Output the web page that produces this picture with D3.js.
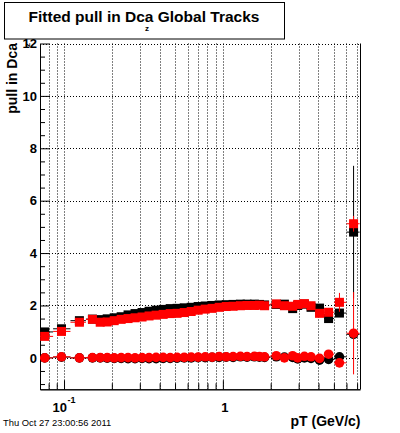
<!DOCTYPE html>
<html>
<head>
<meta charset="utf-8">
<script src="https://cdn.jsdelivr.net/npm/d3@7/dist/d3.min.js"></script>
<style>
  body { margin: 0; background: #fff; }
  text { font-family: "Liberation Sans", Arial, sans-serif; }
</style>
</head>
<body>
<svg id="chart" width="400" height="433"></svg>
<script>
// pT bin centres (GeV/c)
var pt = [0.0756, 0.0964, 0.125, 0.151,
  0.169, 0.187, 0.207, 0.229, 0.253, 0.280, 0.310, 0.343, 0.380, 0.421, 0.466, 0.515,
  0.571, 0.632, 0.699, 0.774, 0.856, 0.948, 1.05, 1.16, 1.29, 1.42, 1.58, 1.70,
  1.83, 2.17, 2.44, 2.75, 2.96, 3.26, 3.59, 4.06, 4.63, 5.42, 6.65];

// fitted width of the pull (squares)
var sigmaBlack = [0.99, 1.11, 1.42, 1.48,
  1.46, 1.49, 1.53, 1.57, 1.64, 1.69, 1.73, 1.78, 1.82, 1.85, 1.88, 1.89,
  1.91, 1.93, 1.96, 1.98, 2.00, 2.02, 2.03, 2.04, 2.05, 2.05, 2.05, 2.04,
  2.02, 2.04, 2.05, 1.88, 2.00, 2.05, 1.93, 1.90, 1.50, 1.71, 4.80];
var sigmaRed = [0.82, 1.01, 1.36, 1.47,
  1.36, 1.37, 1.42, 1.47, 1.50, 1.53, 1.56, 1.60, 1.63, 1.66, 1.69, 1.70,
  1.73, 1.77, 1.82, 1.86, 1.89, 1.93, 1.96, 1.97, 1.99, 2.00, 2.00, 2.01,
  1.99, 2.06, 1.99, 1.97, 2.04, 2.07, 1.99, 1.70, 1.74, 2.12, 5.12];

// fitted mean of the pull (circles)
var meanBlack = [0.00, 0.03, 0.00, 0.00,
  0.00, -0.01, -0.02, -0.02, -0.03, -0.03, -0.02, -0.03, -0.03, -0.02, -0.02, -0.01,
  0.00, 0.00, 0.01, 0.01, 0.02, 0.02, 0.03, 0.02, 0.04, 0.03, 0.04, 0.03,
  0.02, 0.04, 0.03, 0.02, -0.04, 0.00, -0.02, -0.09, -0.06, 0.04, 0.90];
var meanRed = [0.00, 0.04, 0.00, 0.01,
  0.01, 0.01, 0.00, 0.01, 0.01, 0.00, 0.01, 0.01, 0.02, 0.02, 0.01, 0.02,
  0.02, 0.03, 0.03, 0.04, 0.03, 0.05, 0.04, 0.05, 0.06, 0.05, 0.06, 0.05,
  0.04, 0.08, 0.00, 0.08, 0.00, 0.06, 0.04, -0.02, 0.14, -0.19, 0.94];

// vertical errors (only the last bins are visible outside the markers)
var sigmaErrBlack = [0.03, 0.03, 0.03, 0.03,
  0.02, 0.02, 0.02, 0.02, 0.02, 0.02, 0.02, 0.02, 0.02, 0.02, 0.02, 0.02,
  0.02, 0.02, 0.02, 0.02, 0.02, 0.02, 0.02, 0.02, 0.02, 0.02, 0.02, 0.02,
  0.03, 0.03, 0.04, 0.05, 0.05, 0.06, 0.08, 0.12, 0.12, 0.15, 2.53];
var sigmaErrRed = [0.03, 0.03, 0.03, 0.03,
  0.02, 0.02, 0.02, 0.02, 0.02, 0.02, 0.02, 0.02, 0.02, 0.02, 0.02, 0.02,
  0.02, 0.02, 0.02, 0.02, 0.02, 0.02, 0.02, 0.02, 0.02, 0.02, 0.02, 0.02,
  0.03, 0.03, 0.04, 0.05, 0.05, 0.06, 0.08, 0.12, 0.12, 0.36, 0.30];
var meanErrBlack = [0.03, 0.03, 0.03, 0.03,
  0.02, 0.02, 0.02, 0.02, 0.02, 0.02, 0.02, 0.02, 0.02, 0.02, 0.02, 0.02,
  0.02, 0.02, 0.02, 0.02, 0.02, 0.02, 0.02, 0.02, 0.02, 0.02, 0.02, 0.02,
  0.03, 0.03, 0.04, 0.05, 0.05, 0.06, 0.08, 0.10, 0.12, 0.15, 0.20];
var meanErrRed = [0.03, 0.03, 0.03, 0.03,
  0.02, 0.02, 0.02, 0.02, 0.02, 0.02, 0.02, 0.02, 0.02, 0.02, 0.02, 0.02,
  0.02, 0.02, 0.02, 0.02, 0.02, 0.02, 0.02, 0.02, 0.02, 0.02, 0.02, 0.02,
  0.03, 0.03, 0.04, 0.05, 0.05, 0.06, 0.08, 0.10, 0.12, 0.15, 1.57];

var firstBinEdge = 0.065;
var lastBinEdge = 7.26;

var xMajor = [0.1, 1];
var xMinor = [0.08, 0.09, 0.2, 0.3, 0.4, 0.5, 0.6, 0.7, 0.8, 0.9, 2, 3, 4, 5, 6, 7];
var yMajor = [0, 2, 4, 6, 8, 10, 12];
var yMinor = [-1, -0.5, 0.5, 1, 1.5, 2.5, 3, 3.5, 4.5, 5, 5.5, 6.5, 7, 7.5,
  8.5, 9, 9.5, 10.5, 11, 11.5];

// frame edges in px (note: "top" is reserved on window)
var frameL = 40, frameR = 360, frameT = 43.5, frameB = 389.3;

var svg = d3.select('#chart');

svg.append('rect')
  .attr('width', 400).attr('height', 433)
  .attr('fill', '#fff');

var x = d3.scaleLog()
  .domain([0.0706, 7.3])
  .range([frameL, frameR]);

var y = d3.scaleLinear()
  .domain([-1.2, 12])
  .range([frameB, frameT]);

// dotted grid
var grid = svg.append('g')
  .attr('stroke', '#000')
  .attr('stroke-width', 1)
  .attr('stroke-dasharray', '1,2');

grid.selectAll('.vg')
  .data(xMajor.concat(xMinor))
  .enter().append('line')
  .attr('x1', d => Math.round(x(d)) + 0.5)
  .attr('x2', d => Math.round(x(d)) + 0.5)
  .attr('y1', frameT)
  .attr('y2', frameB);

grid.selectAll('.hg')
  .data(yMajor)
  .enter().append('line')
  .attr('x1', frameL)
  .attr('x2', frameR)
  .attr('y1', d => Math.round(y(d)) + 0.5)
  .attr('y2', d => Math.round(y(d)) + 0.5);

// right edge of the frame
svg.append('line')
  .attr('x1', frameR + 0.5).attr('x2', frameR + 0.5)
  .attr('y1', frameT).attr('y2', frameB)
  .attr('stroke', '#000');

// axes: ticks point into the frame
var gx = svg.append('g').attr('transform', 'translate(0,' + frameB + ')');
gx.append('g').call(d3.axisBottom(x).tickValues(xMinor).tickSize(-6).tickSizeOuter(0).tickFormat(''));
gx.append('g').call(d3.axisBottom(x).tickValues(xMajor).tickSize(-9).tickSizeOuter(0).tickFormat(''));

var gy = svg.append('g').attr('transform', 'translate(' + frameL + ',0)');
gy.append('g').call(d3.axisLeft(y).tickValues(yMinor).tickSize(-5).tickSizeOuter(0).tickFormat(''));
gy.append('g').call(d3.axisLeft(y).tickValues(yMajor).tickSize(-9).tickSizeOuter(0).tickPadding(3));

svg.selectAll('.domain').attr('stroke', '#000');
svg.selectAll('.tick line').attr('stroke', '#000');
gy.selectAll('.tick text')
  .attr('font-family', '"Liberation Sans", Arial, sans-serif')
  .attr('font-size', '13px')
  .attr('font-weight', 'bold')
  .attr('fill', '#000');

// x tick labels, ROOT style 10^-1 and 1
var xl = svg.append('g')
  .attr('font-weight', 'bold')
  .attr('fill', '#000');
xl.append('text')
  .attr('x', x(0.1) + 3)
  .attr('y', 411.7)
  .attr('text-anchor', 'end')
  .attr('font-size', '13px')
  .text('10');
xl.append('text')
  .attr('x', x(0.1) + 3.5)
  .attr('y', 402.5)
  .attr('font-size', '9px')
  .text('-1');
xl.append('text')
  .attr('x', x(1) + 2)
  .attr('y', 411.7)
  .attr('text-anchor', 'middle')
  .attr('font-size', '13px')
  .text('1');

// markers, black graph first then red on top
svg.append('clipPath').attr('id', 'frame')
  .append('rect')
  .attr('x', frameL).attr('y', frameT)
  .attr('width', frameR - frameL).attr('height', frameB - frameT);
var plot = svg.append('g').attr('clip-path', 'url(#frame)');

function binLo(i) {
  return i === 0 ? firstBinEdge : Math.sqrt(pt[i - 1] * pt[i]);
}
function binHi(i) {
  return i === pt.length - 1 ? lastBinEdge : Math.sqrt(pt[i] * pt[i + 1]);
}

function drawGraph(vals, errs, color, shape) {
  var g = plot.append('g');
  var data = pt.map((p, i) => ({p: p, v: vals[i], e: errs[i], i: i}));

  g.selectAll('.ex')
    .data(data)
    .enter().append('line')
    .attr('x1', d => x(binLo(d.i)))
    .attr('x2', d => x(binHi(d.i)))
    .attr('y1', d => y(d.v))
    .attr('y2', d => y(d.v))
    .attr('stroke', color)
    .attr('stroke-width', 1);

  g.selectAll('.ey')
    .data(data)
    .enter().append('line')
    .attr('x1', d => x(d.p))
    .attr('x2', d => x(d.p))
    .attr('y1', d => y(d.v + d.e))
    .attr('y2', d => y(d.v - d.e))
    .attr('stroke', color)
    .attr('stroke-width', 1);

  if (shape === 'square') {
    g.selectAll('.m')
      .data(data)
      .enter().append('rect')
      .attr('x', d => x(d.p) - 4.5)
      .attr('y', d => y(d.v) - 4.5)
      .attr('width', 9)
      .attr('height', 9)
      .attr('fill', color);
  } else {
    g.selectAll('.m')
      .data(data)
      .enter().append('circle')
      .attr('cx', d => x(d.p))
      .attr('cy', d => y(d.v))
      .attr('r', 4.8)
      .attr('fill', color);
  }
}

drawGraph(sigmaBlack, sigmaErrBlack, '#000', 'square');
drawGraph(meanBlack, meanErrBlack, '#000', 'circle');
drawGraph(sigmaRed, sigmaErrRed, '#f00', 'square');
drawGraph(meanRed, meanErrRed, '#f00', 'circle');

// title box
svg.append('rect')
  .attr('x', 4.5).attr('y', 2.5)
  .attr('width', 280).attr('height', 36.5)
  .attr('fill', '#fff')
  .attr('stroke', '#000');
svg.append('text')
  .attr('x', 144)
  .attr('y', 21.5)
  .attr('text-anchor', 'middle')
  .attr('font-size', '15.5px')
  .attr('font-weight', 'bold')
  .text('Fitted pull in Dca Global Tracks');
svg.append('text')
  .attr('x', 147)
  .attr('y', 31)
  .attr('text-anchor', 'middle')
  .attr('font-size', '8px')
  .attr('font-weight', 'bold')
  .text('z');

// axis titles
svg.append('text')
  .attr('transform', 'translate(17,43) rotate(-90)')
  .attr('text-anchor', 'end')
  .attr('font-size', '14px')
  .attr('font-weight', 'bold')
  .text('pull in Dca');
svg.append('text')
  .attr('transform', 'translate(29.5,45) rotate(-90)')
  .attr('text-anchor', 'middle')
  .attr('font-size', '8px')
  .attr('font-weight', 'bold')
  .text('z');

svg.append('text')
  .attr('x', 360.5)
  .attr('y', 425.5)
  .attr('text-anchor', 'end')
  .attr('font-size', '14px')
  .attr('font-weight', 'bold')
  .text('pT (GeV/c)');

svg.append('text')
  .attr('x', 3)
  .attr('y', 426)
  .attr('font-size', '9.4px')
  .text('Thu Oct 27 23:00:56 2011');
</script>
</body>
</html>
